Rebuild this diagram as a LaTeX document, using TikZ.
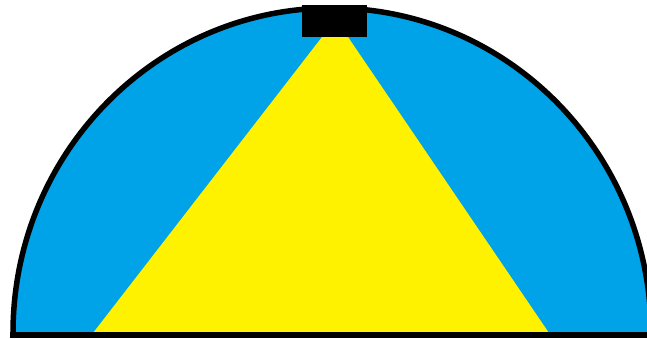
\documentclass[tikz,border=0pt]{standalone}
\definecolor{domeblue}{RGB}{0,162,232}
\definecolor{lightyellow}{RGB}{255,242,0}
\tikzset{
  dome/.style={fill=domeblue},
  beam/.style={fill=lightyellow},
  rim/.style={draw=black, line width=5.5pt},
  lamp/.style={fill=black},
  floorline/.style={draw=black, line width=6pt}
}
\begin{document}
\begin{tikzpicture}[x=1pt,y=-1pt]
\useasboundingbox (0,0) rectangle (647,338);
\coordinate (c) at (332,333);
\begin{scope}
  \clip (0,0) rectangle (647,333);
  \fill[dome] (c) ellipse[x radius=319pt, y radius=325pt];
  \fill[beam] (322,37) -- (348,37) -- (549,333) -- (93,333) -- cycle;
  \draw[rim] (c) ellipse[x radius=319pt, y radius=325pt];
\end{scope}
\fill[lamp] (302,5) rectangle (367,37);
\coordinate (fl) at (10,335);
\coordinate (fr) at (647,335);
\draw[floorline] (fl) -- (fr);
\end{tikzpicture}
\end{document}
